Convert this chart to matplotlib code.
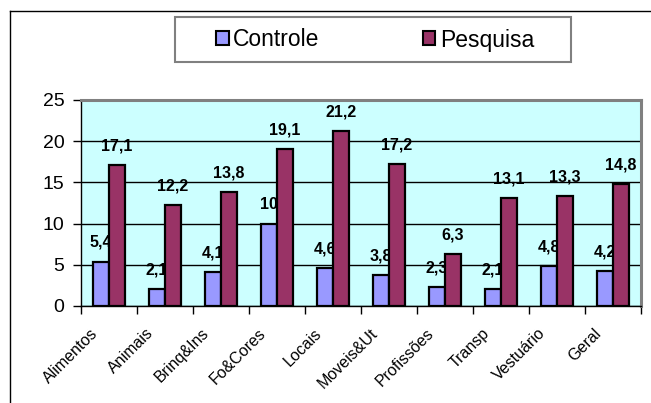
"""Controle vs Pesquisa bar chart by category."""

import matplotlib
matplotlib.use("Agg")
import matplotlib.pyplot as plt
import numpy as np
from matplotlib.lines import Line2D
from matplotlib.patches import Patch, Rectangle
from matplotlib.transforms import ScaledTranslation

plt.rcParams["font.family"] = ["Liberation Sans", "DejaVu Sans"]

categories = ["Alimentos", "Animais", "Brinq&Ins", "Fo&Cores", "Locais",
              "Moveis&Ut", "Profissões", "Transp", "Vestuário", "Geral"]
controle = [5.4, 2.1, 4.1, 10, 4.6, 3.8, 2.3, 2.1, 4.8, 4.2]
pesquisa = [17.1, 12.2, 13.8, 19.1, 21.2, 17.2, 6.3, 13.1, 13.3, 14.8]
series_names = ["Controle", "Pesquisa"]
series_colors = ["#9999FF", "#993366"]


def fmt(v):
    return f"{v:g}".replace(".", ",")


W, H = 651, 403
fig = plt.figure(figsize=(W / 100, H / 100), dpi=100)
fig.patch.set_facecolor("white")

# outer chart frame (left and top edges only show)
fig.add_artist(Line2D([10 / W, 10 / W], [-0.1, 1 - 11 / H], color="black", lw=1))
fig.add_artist(Line2D([10 / W, 1.1], [1 - 11 / H, 1 - 11 / H], color="black", lw=1))

ax = fig.add_axes([81 / W, 1 - 306 / H, (641 - 81) / W, (306 - 100) / H])
ax.set_facecolor("#CCFFFF")

x = np.arange(len(categories))
bw = 1 / 3.5
ax.bar(x - bw / 2, controle, bw, color=series_colors[0], edgecolor="black", lw=1.6, zorder=2)
ax.bar(x + bw / 2, pesquisa, bw, color=series_colors[1], edgecolor="black", lw=1.6, zorder=3)

# value labels; the Pesquisa bars sit above the Controle labels
for xi, v in zip(x, controle):
    ax.annotate(fmt(v), (xi - bw / 2, v), xytext=(0, 10.5), textcoords="offset points",
                ha="center", va="baseline", fontsize=11.5, fontweight="bold", zorder=2.5)
for xi, v in zip(x, pesquisa):
    ax.annotate(fmt(v), (xi + bw / 2, v), xytext=(0, 10.5), textcoords="offset points",
                ha="center", va="baseline", fontsize=11.5, fontweight="bold", zorder=4)

ax.set_xlim(-0.5, len(categories) - 0.5)
ax.set_ylim(0, 25)
ax.set_yticks(np.arange(0, 26, 5))
ax.yaxis.grid(True, color="black", lw=1)
ax.set_axisbelow(True)
ax.tick_params(axis="y", direction="out", length=6, width=1, labelsize=14, pad=6)

ax.set_xticks(x)
ax.set_xticks(np.arange(-0.5, len(categories), 1), minor=True)
ax.tick_params(axis="x", which="major", length=0, pad=18)
ax.tick_params(axis="x", which="minor", direction="out", length=6, width=1)
ax.set_xticklabels(categories, rotation=45, ha="right", va="center",
                   rotation_mode="anchor", fontsize=11.5)
shift = ScaledTranslation(-14 / 100, 0, fig.dpi_scale_trans)
for lbl in ax.get_xticklabels():
    lbl.set_transform(lbl.get_transform() + shift)

for side in ("top", "right"):
    ax.spines[side].set_color("#808080")
    ax.spines[side].set_linewidth(2.2)
for side in ("left", "bottom"):
    ax.spines[side].set_color("black")
    ax.spines[side].set_linewidth(1)

# legend box
fig.add_artist(Rectangle((175 / W, 1 - 62 / H), (571 - 175) / W, 45 / H,
                         transform=fig.transFigure, facecolor="white",
                         edgecolor="#808080", lw=1.5))
handles = [Patch(facecolor=c, edgecolor="black", lw=1.5) for c in series_colors]
fig.legend(handles, series_names, loc="center", bbox_to_anchor=(375 / W, 1 - 40 / H),
           ncol=2, frameon=False, fontsize=16.5, handlelength=0.55, handleheight=0.55,
           handletextpad=0.2, columnspacing=4.5)

fig.savefig("out.png", dpi=100)
